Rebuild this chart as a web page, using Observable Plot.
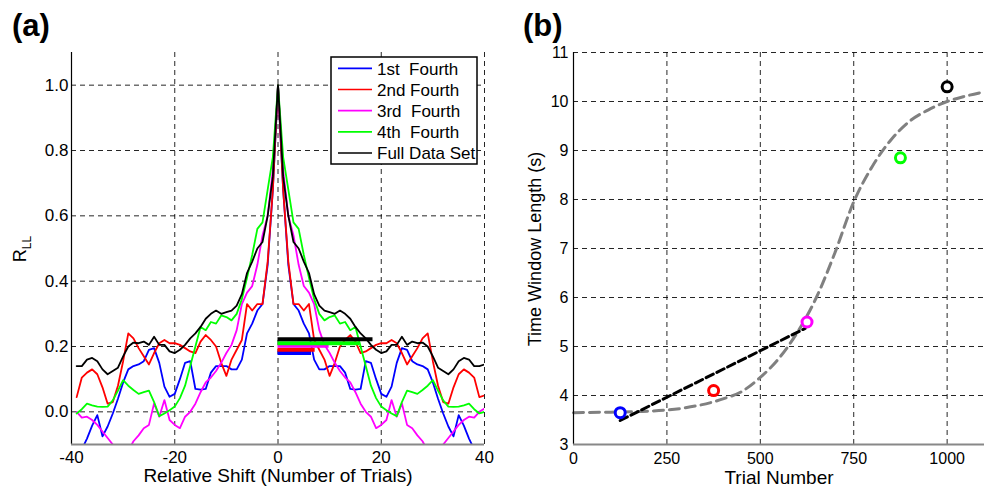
<!DOCTYPE html>
<html><head><meta charset="utf-8">
<script src="https://cdn.jsdelivr.net/npm/d3@7"></script>
<script src="https://cdn.jsdelivr.net/npm/@observablehq/plot@0.6"></script>
<style>
body{margin:0;background:#fff}
#wrap{position:relative;width:991px;height:491px;overflow:hidden;font-family:"Liberation Sans",Arial,sans-serif}
#wrap svg{position:absolute;top:0}
</style></head><body><div id="wrap"></div>
<script>
// ---------- Panel (a) data: autocorrelation vs. relative shift (lags 0..40, symmetric) ----------
const shiftLags = d3.range(-39, 41);
const seriesNames = ["1st  Fourth", "2nd Fourth", "3rd  Fourth", "4th  Fourth", "Full Data Set"];
const seriesColors = ["#0000ff", "#ff0000", "#ff00ff", "#00ff00", "#000000"];
const rFirst  = [1.0, 0.68, 0.45, 0.33, 0.31, 0.27, 0.24, 0.16, 0.13, 0.13, 0.14, 0.14, 0.14, 0.12, 0.07, 0.068, 0.07, 0.155, 0.15, 0.10, 0.055, 0.046, 0.077, 0.15, 0.195, 0.19, 0.155, 0.145, 0.14, 0.13, 0.09, 0.04, -0.005, -0.045, -0.075, -0.01, -0.042, -0.082, -0.115, -0.14, -0.16];
const rSecond = [1.0, 0.68, 0.46, 0.33, 0.33, 0.31, 0.33, 0.22, 0.19, 0.16, 0.11, 0.15, 0.20, 0.22, 0.235, 0.215, 0.18, 0.185, 0.195, 0.205, 0.21, 0.21, 0.22, 0.21, 0.18, 0.145, 0.17, 0.195, 0.225, 0.24, 0.155, 0.08, 0.03, 0.025, 0.075, 0.115, 0.13, 0.12, 0.105, 0.045, 0.05];
const rThird  = [1.0, 0.74, 0.6, 0.54, 0.45, 0.385, 0.365, 0.33, 0.25, 0.205, 0.18, 0.15, 0.125, 0.105, 0.09, 0.06, 0.025, 0.0, -0.015, -0.05, -0.04, -0.025, 0.036, -0.015, 0.026, -0.04, -0.05, -0.072, -0.09, -0.12, -0.13, -0.12, -0.1, -0.08, -0.06, -0.04, -0.025, -0.015, -0.018, 0.0, 0.01];
const rFourth = [1.0, 0.78, 0.68, 0.58, 0.56, 0.48, 0.41, 0.345, 0.30, 0.28, 0.29, 0.295, 0.27, 0.275, 0.25, 0.26, 0.2, 0.14, 0.08, 0.042, 0.016, 0.005, -0.005, -0.013, 0.03, 0.065, 0.06, 0.055, 0.067, 0.08, 0.097, 0.065, 0.035, 0.016, 0.015, 0.016, 0.02, 0.025, 0.008, -0.005, 0.0];
const rFull   = [1.0, 0.72, 0.60, 0.52, 0.50, 0.46, 0.425, 0.36, 0.325, 0.31, 0.305, 0.30, 0.31, 0.30, 0.285, 0.26, 0.24, 0.225, 0.205, 0.19, 0.18, 0.185, 0.205, 0.205, 0.23, 0.205, 0.215, 0.21, 0.212, 0.20, 0.17, 0.135, 0.125, 0.115, 0.13, 0.155, 0.165, 0.16, 0.14, 0.14, 0.145];
const halfValues = [rFirst, rSecond, rThird, rFourth, rFull];
// horizontal bars (width of the correlation peak)
const barLevels  = [0.18, 0.19, 0.202, 0.21, 0.222];
const barLengths = [6.5, 7.2, 9.9, 15.8, 18.4];
const xTicksA = [-40, -20, 0, 20, 40];
const yTicksA = [0, 0.2, 0.4, 0.6, 0.8, 1.0];

// ---------- Panel (b) data ----------
const trialNumbers = [125, 375, 625, 875, 1000];
const windowLengths = [3.65, 4.10, 5.50, 8.85, 10.30];
const pointColors = ["#0000ff", "#ff0000", "#ff00ff", "#00ff00", "#000000"];
const fitX = [0, 100, 200, 300, 400, 450, 500, 550, 600, 650, 700, 750, 800, 850, 900, 950, 1000, 1050, 1095];
const fitY = [3.65, 3.66, 3.68, 3.75, 3.93, 4.08, 4.37, 4.76, 5.3, 6.0, 6.92, 7.95, 8.68, 9.22, 9.6, 9.83, 10.0, 10.11, 10.19];
const linX = [125, 620];
const linY = [3.49, 5.37];
const xTicksB = [0, 250, 500, 750, 1000];
const yTicksB = [3, 4, 5, 6, 7, 8, 9, 10, 11];

const FONT = '"Liberation Sans", Arial, sans-serif';
const wrap = document.getElementById("wrap");
const gridStyle = {stroke: "#000", strokeOpacity: 0.85, strokeWidth: 1, strokeDasharray: "5,4"};

// ---------- Panel (a) ----------
const seriesRows = halfValues.map(vals => shiftLags.map(l => ({lag: l, r: vals[Math.abs(l)]})));
const barRows = barLevels.map((y, i) => ({y, len: barLengths[i]}));

const plotA = Plot.plot({
  width: 495, height: 491,
  marginLeft: 71, marginRight: 11, marginTop: 52, marginBottom: 47,
  style: {fontFamily: FONT, fontSize: "17px", color: "#000", background: "transparent"},
  x: {domain: [-40, 40]},
  y: {domain: [-0.1, 1.1]},
  marks: [
    Plot.gridX(xTicksA.slice(1), gridStyle),
    Plot.gridY(yTicksA, gridStyle),
    ...seriesRows.map((rows, i) => Plot.line(rows, {x: "lag", y: "r", stroke: seriesColors[i], strokeWidth: 1.8, clip: true})),
    ...barRows.map((b, i) => Plot.ruleY([b], {y: "y", x1: 0, x2: "len", stroke: seriesColors[i], strokeWidth: 4})),
    Plot.ruleX([-40], {stroke: "#000", strokeWidth: 1.2}),
    Plot.ruleY([-0.1], {stroke: "#888", strokeWidth: 2}),
    Plot.axisX(xTicksA, {tickSize: 0, tickPadding: 6, tickFormat: d => String(d), label: null}),
    Plot.axisY(yTicksA, {tickSize: 0, tickPadding: 3, tickFormat: d => d.toFixed(1), label: null})
  ]
});
plotA.style.left = "0px";
wrap.appendChild(plotA);

// ---------- Panel (b) ----------
const fitRows = fitX.map((x, i) => ({x, y: fitY[i]}));
const linRows = linX.map((x, i) => ({x, y: linY[i]}));
const pointRows = trialNumbers.map((x, i) => ({x, y: windowLengths[i]}));

const plotB = Plot.plot({
  width: 496, height: 491,
  marginLeft: 78, marginRight: 7, marginTop: 52, marginBottom: 47,
  style: {fontFamily: FONT, fontSize: "16px", color: "#000", background: "transparent"},
  x: {domain: [0, 1100]},
  y: {domain: [3, 11]},
  marks: [
    Plot.gridX(xTicksB.slice(1), gridStyle),
    Plot.gridY(yTicksB.slice(1), gridStyle),
    Plot.line(fitRows, {x: "x", y: "y", curve: "monotone-x", stroke: "#808080", strokeWidth: 3, strokeDasharray: "10,6"}),
    Plot.line(linRows, {x: "x", y: "y", stroke: "#000", strokeWidth: 3, strokeDasharray: "8,4"}),
    ...pointRows.map((p, i) => Plot.dot([p], {x: "x", y: "y", r: 5, stroke: pointColors[i], strokeWidth: 3, fill: "white"})),
    Plot.ruleX([0], {stroke: "#000", strokeWidth: 1.2}),
    Plot.ruleY([3], {stroke: "#888", strokeWidth: 2}),
    Plot.axisX(xTicksB, {tickSize: 0, tickPadding: 8, tickFormat: d => String(d), label: null}),
    Plot.axisY(yTicksB, {tickSize: 0, tickPadding: 5, tickFormat: d => String(d), label: null})
  ]
});
plotB.style.left = "495px";
wrap.appendChild(plotB);

// ---------- Overlay: titles, axis labels, legend ----------
const ov = d3.select(wrap).append("svg")
  .attr("width", 991).attr("height", 491)
  .style("left", "0px").style("font-family", FONT);

ov.append("text").attr("x", 12).attr("y", 36).attr("font-size", 31).attr("font-weight", "bold").text("(a)");
ov.append("text").attr("x", 523).attr("y", 36).attr("font-size", 31).attr("font-weight", "bold").text("(b)");

ov.append("text").attr("x", 278).attr("y", 482).attr("text-anchor", "middle").attr("font-size", 19)
  .text("Relative Shift (Number of Trials)");
ov.append("text").attr("x", 779).attr("y", 484).attr("text-anchor", "middle").attr("font-size", 19)
  .text("Trial Number");

const rl = ov.append("text").attr("transform", "translate(26,249) rotate(-90)").attr("text-anchor", "middle").attr("font-size", 18);
rl.append("tspan").text("R");
rl.append("tspan").attr("font-size", 12).attr("dy", 5).text("LL");

ov.append("text").attr("transform", "translate(541,249) rotate(-90)").attr("text-anchor", "middle").attr("font-size", 18)
  .text("Time Window Length (s)");

// legend
const lg = ov.append("g");
lg.append("rect").attr("x", 331).attr("y", 57).attr("width", 146).attr("height", 107)
  .attr("fill", "#fff").attr("stroke", "#000").attr("stroke-width", 1.5);
const rowY = [68.3, 89.5, 110.7, 131.9, 153];
seriesNames.forEach((name, i) => {
  lg.append("line").attr("x1", 338).attr("x2", 372).attr("y1", rowY[i]).attr("y2", rowY[i])
    .attr("stroke", seriesColors[i]).attr("stroke-width", 1.7);
  lg.append("text").attr("x", 377).attr("y", rowY[i] + 6.3).attr("font-size", 17)
    .style("white-space", "pre").attr("xml:space", "preserve").text(name);
});
</script>
</body></html>
